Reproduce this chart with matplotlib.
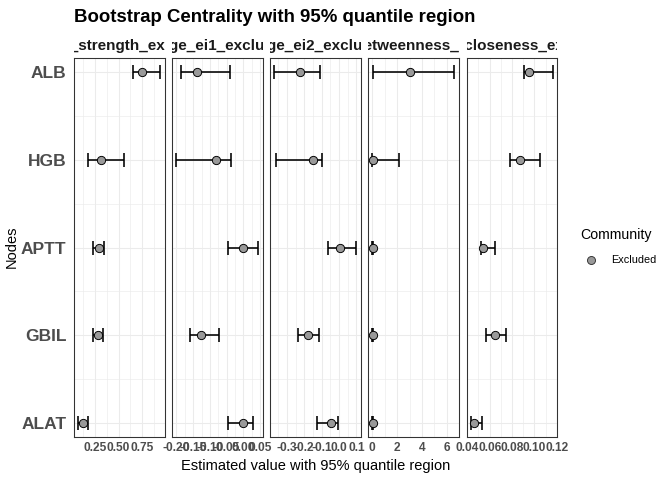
import matplotlib
matplotlib.use("Agg")
import matplotlib.pyplot as plt
import numpy as np
from matplotlib.patches import Rectangle
from matplotlib.lines import Line2D
from matplotlib.ticker import FixedLocator

plt.rcParams['font.family'] = ['Liberation Sans', 'DejaVu Sans']

# ---- data ----
nodes = ["ALB", "HGB", "APTT", "GBIL", "ALAT"]
panel_titles = ["bridge_strength_excluded", "bridge_ei1_excluded", "bridge_ei2_excluded",
                "bridge_betweenness_excluded", "bridge_closeness_excluded"]

strength_est = [0.750, 0.310, 0.295, 0.275, 0.121]
strength_lo = [0.650, 0.175, 0.225, 0.225, 0.068]
strength_hi = [0.944, 0.553, 0.339, 0.332, 0.175]

ei1_est = [-0.1375, -0.082, 0.000, -0.128, -0.002]
ei1_lo = [-0.186, -0.201, -0.046, -0.158, -0.046]
ei1_hi = [-0.040, -0.036, 0.045, -0.073, 0.029]

ei2_est = [-0.224, -0.152, 0.006, -0.180, -0.047]
ei2_lo = [-0.373, -0.362, -0.061, -0.237, -0.124]
ei2_hi = [-0.112, -0.100, 0.100, -0.113, -0.006]

betw_est = [3.06, 0.05, 0.05, 0.05, 0.05]
betw_lo = [0.05, 0.0, 0.0, 0.0, 0.0]
betw_hi = [6.60, 2.13, 0.10, 0.10, 0.10]

close_est = [0.0950, 0.0870, 0.0542, 0.0645, 0.0460]
close_lo = [0.0905, 0.0778, 0.0519, 0.0569, 0.0430]
close_hi = [0.1165, 0.1050, 0.0645, 0.0749, 0.0534]

tick_vals = [[0.25, 0.50, 0.75],
             [-0.20, -0.15, -0.10, -0.05, 0.00, 0.05],
             [-0.3, -0.2, -0.1, 0.0, 0.1],
             [0, 2, 4, 6],
             [0.04, 0.06, 0.08, 0.10, 0.12]]
tick_labels = [["0.25", "0.50", "0.75"],
               ["-0.20", "-0.15", "-0.10", "-0.05", "0.00", "0.05"],
               ["-0.3", "-0.2", "-0.1", "0.0", "0.1"],
               ["0", "2", "4", "6"],
               ["0.04", "0.06", "0.08", "0.10", "0.12"]]

legend_title = "Community"
legend_label = "Excluded"

series = [(strength_est, strength_lo, strength_hi),
          (ei1_est, ei1_lo, ei1_hi),
          (ei2_est, ei2_lo, ei2_hi),
          (betw_est, betw_lo, betw_hi),
          (close_est, close_lo, close_hi)]

# ---- layout ----
W, H = 672, 480
fig = plt.figure(figsize=(W / 96, H / 96), dpi=96)
lefts = [74, 172, 270, 368, 466.5]
pw = 90.5
top, bottom = 58, 437

ypos = np.arange(len(nodes))[::-1] + 1  # ALB on top
ylim = (0.84, 5.16)

grid_col = "#EBEBEB"
for i, (est, lo, hi) in enumerate(series):
    ax = fig.add_axes([lefts[i] / W, (H - bottom) / H, pw / W, (bottom - top) / H])
    est = np.array(est); lo = np.array(lo); hi = np.array(hi)
    rng = hi.max() - lo.min()
    ax.set_xlim(lo.min() - 0.05 * rng, hi.max() + 0.05 * rng)
    ax.set_ylim(*ylim)

    tv = tick_vals[i]
    step = tv[1] - tv[0]
    ax.xaxis.set_major_locator(FixedLocator(tv))
    minors = [t - step / 2 for t in tv] + [tv[-1] + step / 2]
    ax.xaxis.set_minor_locator(FixedLocator(minors))
    ax.set_xticks(tv)
    ax.set_xticklabels(tick_labels[i], fontsize=8.9, fontweight='bold', color='#4D4D4D')
    ax.yaxis.set_major_locator(FixedLocator(ypos))
    ax.yaxis.set_minor_locator(FixedLocator([1.5, 2.5, 3.5, 4.5]))
    ax.grid(which='major', color=grid_col, linewidth=0.8, zorder=0)
    ax.grid(which='minor', color=grid_col, linewidth=0.45, zorder=0)
    ax.set_axisbelow(True)
    ax.tick_params(axis='both', which='both', length=0)
    ax.tick_params(axis='x', pad=4)
    ax.tick_params(axis='y', pad=5.5)
    if i == 0:
        ax.set_yticklabels(nodes, fontsize=13, fontweight='bold', color='#4D4D4D')
    else:
        ax.set_yticklabels([])
    for s in ax.spines.values():
        s.set_color('#333333')
        s.set_linewidth(0.8)

    ax.errorbar(est, ypos, xerr=[est - lo, hi - est], fmt='none', ecolor='black',
                elinewidth=1.2, capsize=5.2, capthick=1.2, zorder=2)
    ax.plot(est, ypos, linestyle='none', marker='o', markersize=6.2,
            markerfacecolor='#999999', markeredgecolor='black', markeredgewidth=0.7, zorder=3)

    t = ax.text(0.5, 1 + (58 - 50) / (bottom - top), panel_titles[i], transform=ax.transAxes,
                ha='center', va='baseline', fontsize=11.4, fontweight='bold', color='#1A1A1A')
    clip = Rectangle((0, 1), 1, 0.2, transform=ax.transAxes, facecolor='none', edgecolor='none')
    t.set_clip_path(clip)
    t.set_clip_on(True)

fig.text(74 / W, 1 - 22 / H, "Bootstrap Centrality with 95% quantile region",
         fontsize=14, fontweight='bold', ha='left', va='baseline')
fig.text(315.5 / W, 1 - 466 / H, "Estimated value with 95% quantile region",
         fontsize=11, ha='center', va='center')
fig.text(12 / W, 1 - 247 / H, "Nodes", fontsize=11, rotation=90, ha='center', va='center')

# legend (drawn manually in figure coordinates)
fig.text(580 / W, 1 - 235 / H, legend_title, fontsize=10.6, ha='left', va='center')
key = Line2D([590.7 / W], [1 - 260.3 / H], transform=fig.transFigure, linestyle='none',
             marker='o', markersize=6, markerfacecolor='#999999',
             markeredgecolor='#333333', markeredgewidth=0.7)
fig.add_artist(key)
fig.text(610.7 / W, 1 - 260 / H, legend_label, fontsize=8.2, ha='left', va='center')

fig.savefig("out.png", dpi=96)
